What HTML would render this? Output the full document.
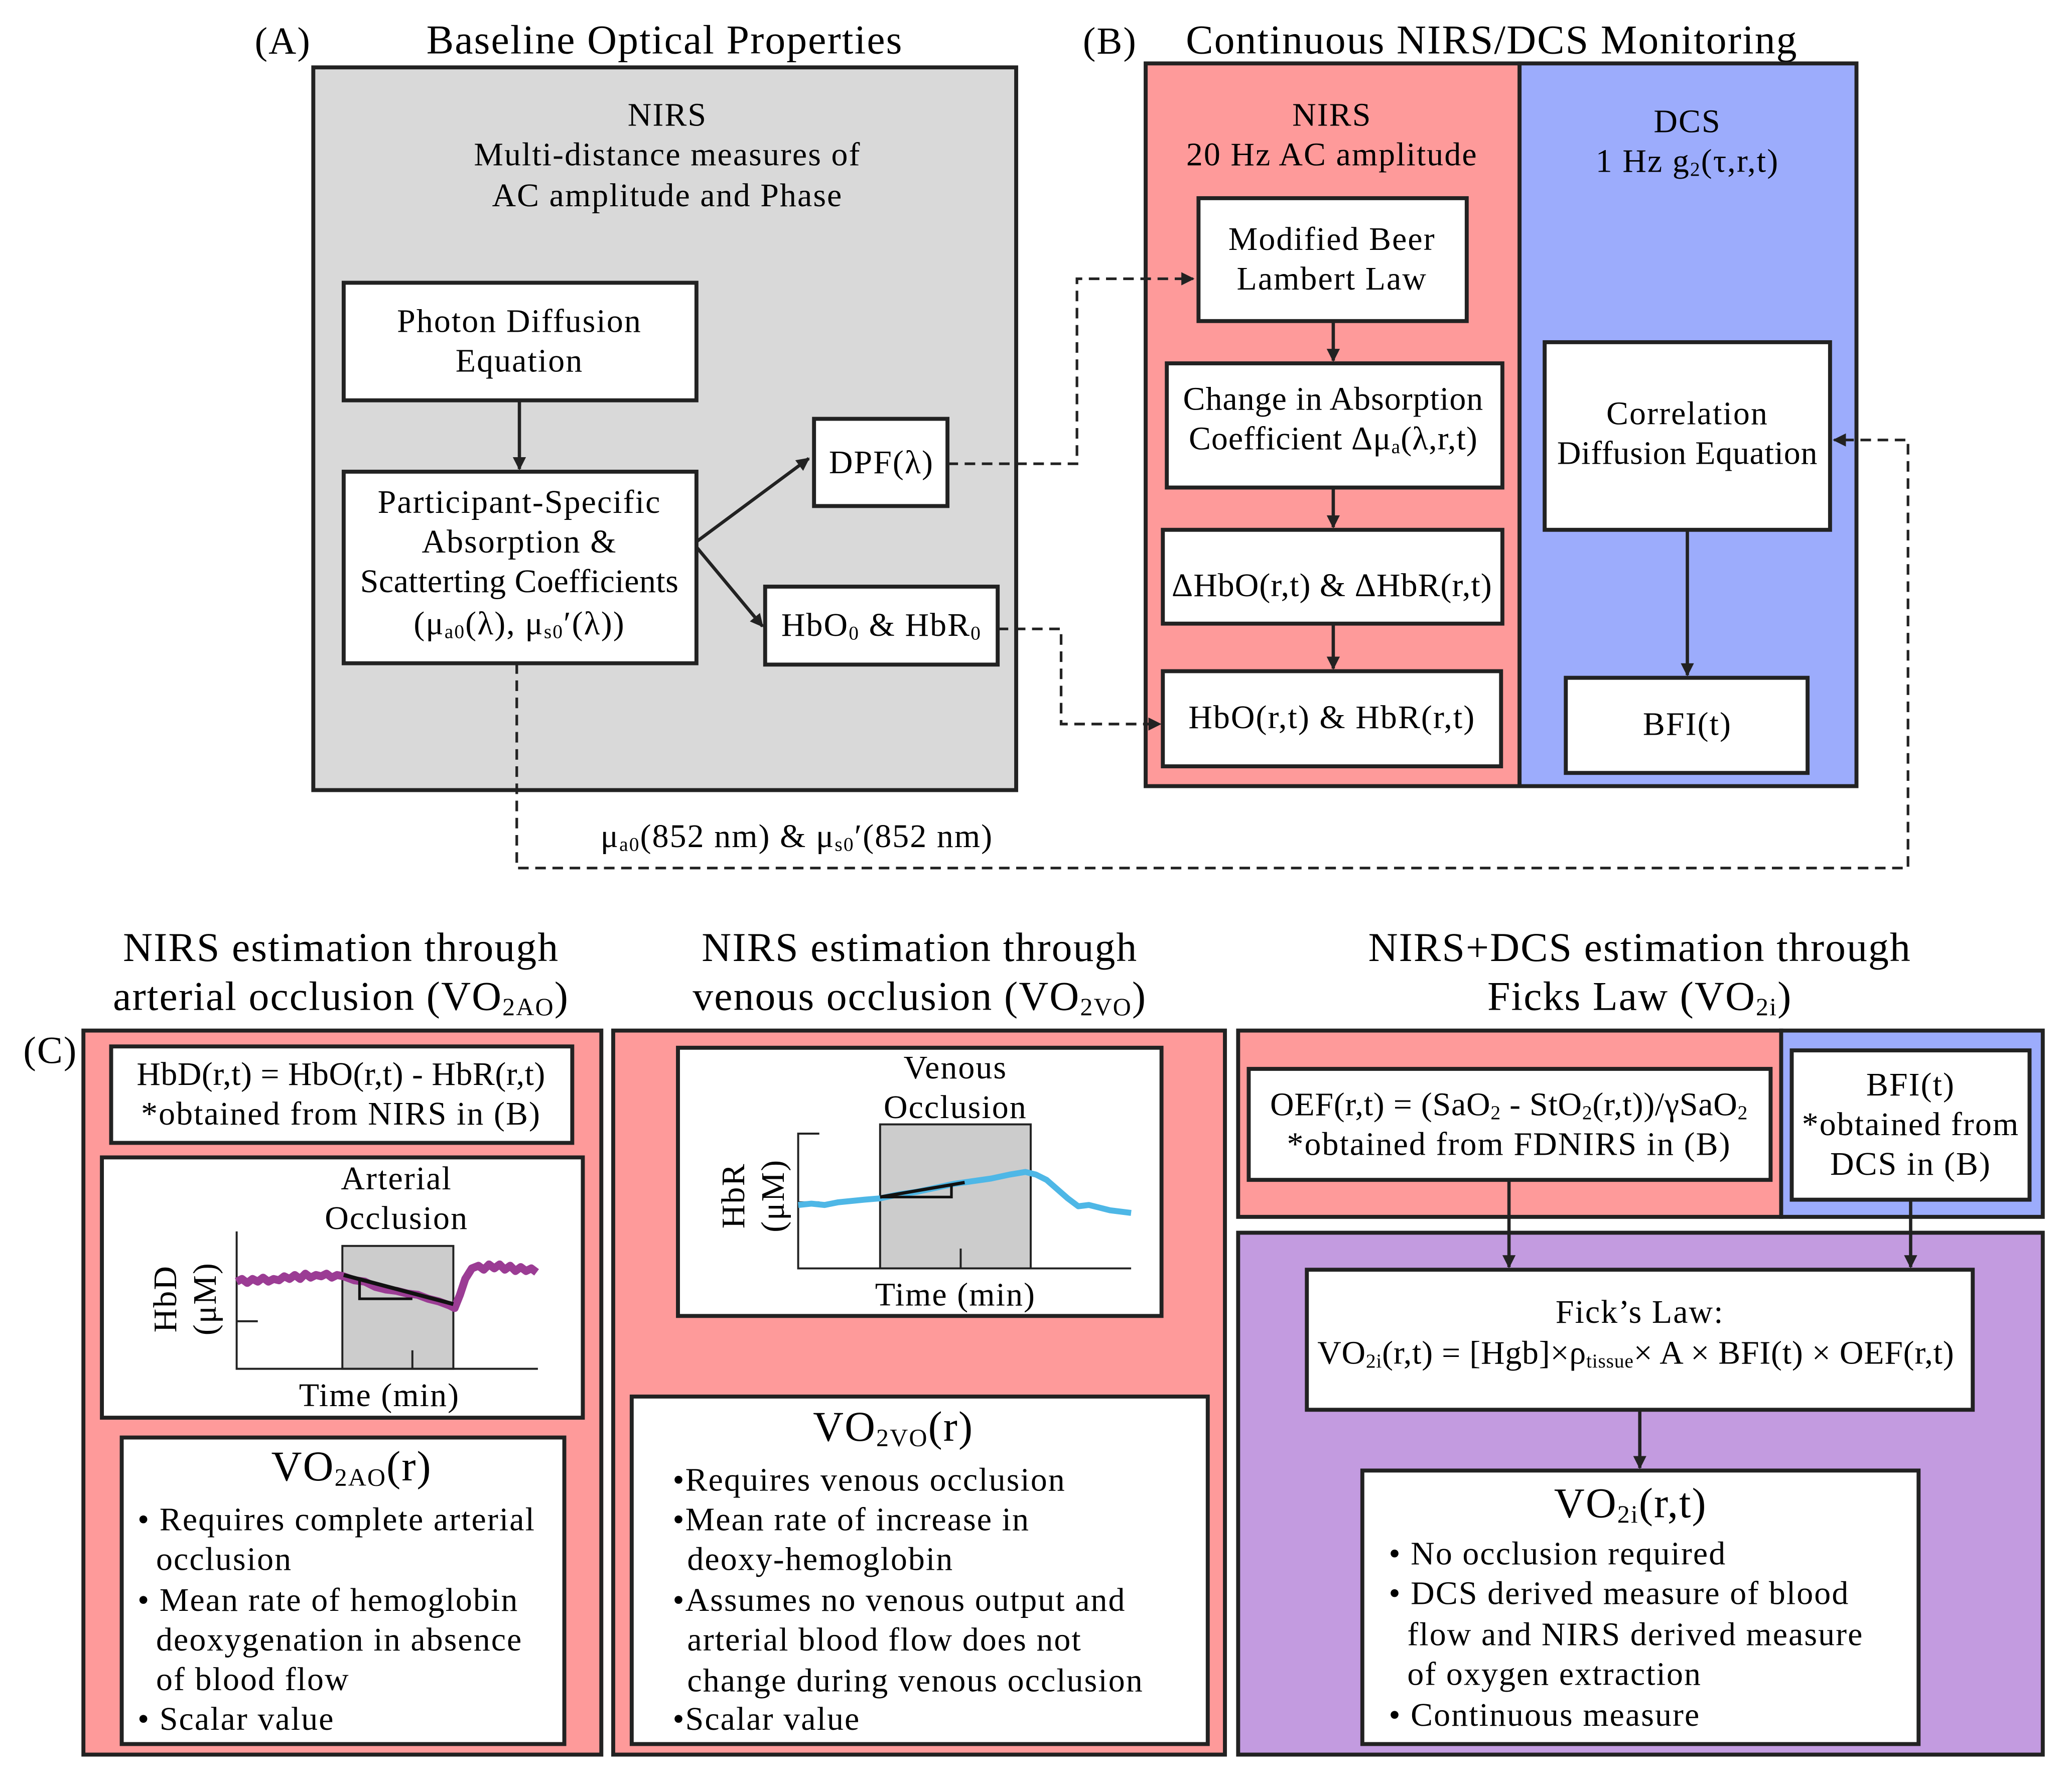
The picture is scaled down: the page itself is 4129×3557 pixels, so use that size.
<!DOCTYPE html>
<html><head><meta charset="utf-8"><style>html,body{margin:0;padding:0;background:#fff}svg{display:block}</style></head><body>
<svg xmlns="http://www.w3.org/2000/svg" width="4129" height="3557" viewBox="0 0 1568 1351" font-family="'Liberation Serif', serif" font-size="25" letter-spacing="0.8" text-anchor="middle" dominant-baseline="central">
<defs>
<marker id="ah" markerWidth="10" markerHeight="10" refX="9" refY="5" orient="auto" markerUnits="userSpaceOnUse"><path d="M0,0 L10,5 L0,10 Z" fill="#222"/></marker>
</defs>
<rect width="1568" height="1351" fill="#fff"/>

<!-- A -->
<text x="214" y="31" font-size="29">(A)</text>
<text x="503" y="30" font-size="31">Baseline Optical Properties</text>
<rect x="237" y="51" width="532" height="547" fill="#d9d9d9" stroke="#222" stroke-width="3"/>
<text x="505" y="87">NIRS</text>
<text x="505" y="117">Multi-distance measures of</text>
<text x="505" y="148">AC amplitude and Phase</text>
<rect x="260" y="214" width="267" height="89" fill="#fff" stroke="#222" stroke-width="3"/>
<text x="393" y="243">Photon Diffusion</text>
<text x="393" y="273">Equation</text>
<rect x="260" y="357" width="267" height="145" fill="#fff" stroke="#222" stroke-width="3"/>
<text x="393" y="380">Participant-Specific</text>
<text x="393" y="410">Absorption &amp;</text>
<text x="393" y="440" letter-spacing="0.2">Scatterting Coefficients</text>
<text x="393" y="472">(μ<tspan font-size="15" baseline-shift="-6">a0</tspan>(λ), μ<tspan font-size="15" baseline-shift="-6">s0</tspan>′(λ))</text>
<rect x="616" y="317" width="101" height="66" fill="#fff" stroke="#222" stroke-width="3"/>
<text x="667" y="350">DPF(λ)</text>
<rect x="579" y="444" width="176" height="59" fill="#fff" stroke="#222" stroke-width="3"/>
<text x="667" y="473">HbO<tspan font-size="15" baseline-shift="-6">0</tspan> &amp; HbR<tspan font-size="15" baseline-shift="-6">0</tspan></text>
<line x1="393" y1="303" x2="393" y2="355" stroke="#222" stroke-width="2.5" marker-end="url(#ah)"/>
<line x1="527" y1="410" x2="612" y2="347" stroke="#222" stroke-width="2.5" marker-end="url(#ah)"/>
<line x1="527" y1="414" x2="577" y2="474" stroke="#222" stroke-width="2.5" marker-end="url(#ah)"/>

<!-- B -->
<text x="840" y="31" font-size="29">(B)</text>
<text x="1129" y="30" font-size="31">Continuous NIRS/DCS Monitoring</text>
<rect x="867" y="48" width="283" height="547" fill="#fe9a9a" stroke="#222" stroke-width="3"/>
<rect x="1150" y="48" width="255" height="547" fill="#9cacfc" stroke="#222" stroke-width="3"/>
<text x="1008" y="87">NIRS</text>
<text x="1008" y="117">20 Hz AC amplitude</text>
<text x="1277" y="92">DCS</text>
<text x="1277" y="122">1 Hz g<tspan font-size="15" baseline-shift="-6">2</tspan>(τ,r,t)</text>
<rect x="907" y="150" width="203" height="93" fill="#fff" stroke="#222" stroke-width="3"/>
<text x="1008" y="181">Modified Beer</text>
<text x="1008" y="211">Lambert Law</text>
<rect x="883" y="275" width="254" height="94" fill="#fff" stroke="#222" stroke-width="3"/>
<text x="1009" y="302" letter-spacing="0.4">Change in Absorption</text>
<text x="1009" y="332" letter-spacing="0.4">Coefficient Δμ<tspan font-size="15" baseline-shift="-6">a</tspan>(λ,r,t)</text>
<rect x="880" y="401" width="257" height="71" fill="#fff" stroke="#222" stroke-width="3"/>
<text x="1008" y="443" letter-spacing="0.4">ΔHbO(r,t) &amp; ΔHbR(r,t)</text>
<rect x="880" y="508" width="256" height="72" fill="#fff" stroke="#222" stroke-width="3"/>
<text x="1008" y="543">HbO(r,t) &amp; HbR(r,t)</text>
<line x1="1009" y1="243" x2="1009" y2="273" stroke="#222" stroke-width="2.5" marker-end="url(#ah)"/>
<line x1="1009" y1="369" x2="1009" y2="399" stroke="#222" stroke-width="2.5" marker-end="url(#ah)"/>
<line x1="1009" y1="472" x2="1009" y2="506" stroke="#222" stroke-width="2.5" marker-end="url(#ah)"/>
<rect x="1169" y="259" width="216" height="142" fill="#fff" stroke="#222" stroke-width="3"/>
<text x="1277" y="313">Correlation</text>
<text x="1277" y="343" letter-spacing="0.3">Diffusion Equation</text>
<rect x="1185" y="513" width="183" height="72" fill="#fff" stroke="#222" stroke-width="3"/>
<text x="1277" y="548">BFI(t)</text>
<line x1="1277" y1="401" x2="1277" y2="511" stroke="#222" stroke-width="2.5" marker-end="url(#ah)"/>

<!-- dashed connectors -->
<g fill="none" stroke="#222" stroke-width="2" stroke-dasharray="8,5">
<polyline points="717,351 815,351 815,211 903,211" marker-end="url(#ah)"/>
<polyline points="755,476 803,476 803,548 878,548" marker-end="url(#ah)"/>
<polyline points="391,502 391,657 1444,657 1444,333 1388,333" marker-end="url(#ah)"/>
</g>
<text x="603" y="633">μ<tspan font-size="15" baseline-shift="-6">a0</tspan>(852 nm) &amp; μ<tspan font-size="15" baseline-shift="-6">s0</tspan>′(852 nm)</text>

<!-- C titles -->
<g font-size="31">
<text x="258" y="717">NIRS estimation through</text>
<text x="258" y="754">arterial occlusion (VO<tspan font-size="19" baseline-shift="-8">2AO</tspan>)</text>
<text x="696" y="717">NIRS estimation through</text>
<text x="696" y="754">venous occlusion (VO<tspan font-size="19" baseline-shift="-8">2VO</tspan>)</text>
<text x="1241" y="717">NIRS+DCS estimation through</text>
<text x="1241" y="754">Ficks Law (VO<tspan font-size="19" baseline-shift="-8">2i</tspan>)</text>
</g>
<text x="38" y="795" font-size="29">(C)</text>

<!-- C1 -->
<rect x="63" y="780" width="392" height="548" fill="#fe9a9a" stroke="#222" stroke-width="3"/>
<rect x="84" y="792" width="349" height="73" fill="#fff" stroke="#222" stroke-width="3"/>
<text x="258" y="813" letter-spacing="0.2">HbD(r,t) = HbO(r,t) - HbR(r,t)</text>
<text x="258" y="843">*obtained from NIRS in (B)</text>
<rect x="77" y="876" width="364" height="197" fill="#fff" stroke="#222" stroke-width="3"/>
<text x="300" y="892">Arterial</text>
<text x="300" y="922">Occlusion</text>
<rect x="259" y="943" width="84" height="93" fill="#cccccc" stroke="#222" stroke-width="1.5"/>
<polyline points="179,932 179,1036 407,1036" fill="none" stroke="#222" stroke-width="1.5"/>
<line x1="179" y1="1000" x2="195" y2="1000" stroke="#222" stroke-width="1.5"/>
<line x1="312" y1="1022" x2="312" y2="1036" stroke="#222" stroke-width="1.5"/>
<polyline points="179,970 183,968 187,971 191,968 195,970 199,967 203,970 207,968 211,969 215,966 219,968 223,965 227,968 231,964 235,967 239,965 243,966 247,964 251,967 255,965 260,966 268,969 276,970 284,974 292,976 300,977 308,979 316,980 324,983 332,985 340,988 344,990 348,980 352,968 357,960 362,958 366,961 370,957 374,960 378,957 382,961 386,958 390,962 394,959 398,962 402,960 406,963" fill="none" stroke="#9b3c94" stroke-width="6" stroke-linejoin="round"/>
<polyline points="260,965 343,987" fill="none" stroke="#111" stroke-width="3"/>
<polyline points="272,968 272,983 312,983" fill="none" stroke="#111" stroke-width="2"/>
<text x="125" y="983" transform="rotate(-90 125 983)">HbD</text>
<text x="155" y="983" transform="rotate(-90 155 983)">(μM)</text>
<text x="287" y="1056">Time (min)</text>
<rect x="92" y="1088" width="335" height="232" fill="#fff" stroke="#222" stroke-width="3"/>
<text x="266" y="1110" font-size="32">VO<tspan font-size="19" baseline-shift="-8">2AO</tspan>(r)</text>
<g text-anchor="start">
<text x="104" y="1150">• Requires complete arterial</text>
<text x="118" y="1180">occlusion</text>
<text x="104" y="1211">• Mean rate of hemoglobin</text>
<text x="118" y="1241">deoxygenation in absence</text>
<text x="118" y="1271">of blood flow</text>
<text x="104" y="1301">• Scalar value</text>
</g>

<!-- C2 -->
<rect x="464" y="780" width="463" height="548" fill="#fe9a9a" stroke="#222" stroke-width="3"/>
<rect x="513" y="793" width="366" height="203" fill="#fff" stroke="#222" stroke-width="3"/>
<rect x="666" y="851" width="114" height="109" fill="#cccccc" stroke="#222" stroke-width="1.5"/>
<text x="723" y="808">Venous</text>
<text x="723" y="838">Occlusion</text>
<polyline points="620,858 604,858 604,960 856,960" fill="none" stroke="#222" stroke-width="1.5"/>
<line x1="604" y1="910" x2="620" y2="910" stroke="#222" stroke-width="1.5"/>
<line x1="727" y1="945" x2="727" y2="960" stroke="#222" stroke-width="1.5"/>
<polyline points="604,912 614,911 624,912 634,910 644,909 654,908 666,907 680,904 694,902 708,899 722,896 736,894 750,892 764,889 776,887 784,889 792,893 800,900 808,907 816,913 824,912 832,914 840,916 848,917 856,918" fill="none" stroke="#4eb7e6" stroke-width="4.5" stroke-linejoin="round"/>
<polyline points="666,906 730,895" fill="none" stroke="#111" stroke-width="2.5"/>
<polyline points="666,906 720,906 720,897" fill="none" stroke="#111" stroke-width="2"/>
<text x="555" y="905" transform="rotate(-90 555 905)">HbR</text>
<text x="585" y="905" transform="rotate(-90 585 905)">(μM)</text>
<text x="723" y="980">Time (min)</text>
<rect x="478" y="1057" width="436" height="263" fill="#fff" stroke="#222" stroke-width="3"/>
<text x="676" y="1080" font-size="32">VO<tspan font-size="19" baseline-shift="-8">2VO</tspan>(r)</text>
<g text-anchor="start">
<text x="509" y="1120">•Requires venous occlusion</text>
<text x="509" y="1150">•Mean rate of increase in</text>
<text x="520" y="1180">deoxy-hemoglobin</text>
<text x="509" y="1211">•Assumes no venous output and</text>
<text x="520" y="1241">arterial blood flow does not</text>
<text x="520" y="1272">change during venous occlusion</text>
<text x="509" y="1301">•Scalar value</text>
</g>

<!-- C3 -->
<rect x="937" y="780" width="411" height="141" fill="#fe9a9a" stroke="#222" stroke-width="3"/>
<rect x="1348" y="780" width="198" height="141" fill="#9cacfc" stroke="#222" stroke-width="3"/>
<rect x="945" y="809" width="395" height="84" fill="#fff" stroke="#222" stroke-width="3"/>
<text x="1142" y="836" letter-spacing="0.3">OEF(r,t) = (SaO<tspan font-size="15" baseline-shift="-6">2</tspan> - StO<tspan font-size="15" baseline-shift="-6">2</tspan>(r,t))/γSaO<tspan font-size="15" baseline-shift="-6">2</tspan></text>
<text x="1142" y="866">*obtained from FDNIRS in (B)</text>
<rect x="1356" y="795" width="180" height="113" fill="#fff" stroke="#222" stroke-width="3"/>
<text x="1446" y="821">BFI(t)</text>
<text x="1446" y="851">*obtained from</text>
<text x="1446" y="881">DCS in (B)</text>
<rect x="937" y="933" width="609" height="395" fill="#c39be0" stroke="#222" stroke-width="3"/>
<rect x="989" y="961" width="504" height="106" fill="#fff" stroke="#222" stroke-width="3"/>
<text x="1241" y="993">Fick’s Law:</text>
<text x="1238" y="1024" letter-spacing="0.3">VO<tspan font-size="15" baseline-shift="-6">2i</tspan>(r,t) = [Hgb]×ρ<tspan font-size="15" baseline-shift="-6">tissue</tspan>× A × BFI(t) × OEF(r,t)</text>
<line x1="1142" y1="893" x2="1142" y2="959" stroke="#222" stroke-width="2.5" marker-end="url(#ah)"/>
<line x1="1446" y1="908" x2="1446" y2="959" stroke="#222" stroke-width="2.5" marker-end="url(#ah)"/>
<line x1="1241" y1="1067" x2="1241" y2="1111" stroke="#222" stroke-width="2.5" marker-end="url(#ah)"/>
<rect x="1031" y="1113" width="421" height="207" fill="#fff" stroke="#222" stroke-width="3"/>
<text x="1234" y="1138" font-size="32">VO<tspan font-size="19" baseline-shift="-8">2i</tspan>(r,t)</text>
<g text-anchor="start">
<text x="1051" y="1176">• No occlusion required</text>
<text x="1051" y="1206">• DCS derived measure of blood</text>
<text x="1065" y="1237">flow and NIRS derived measure</text>
<text x="1065" y="1267">of oxygen extraction</text>
<text x="1051" y="1298">• Continuous measure</text>
</g>
</svg>
</body></html>
